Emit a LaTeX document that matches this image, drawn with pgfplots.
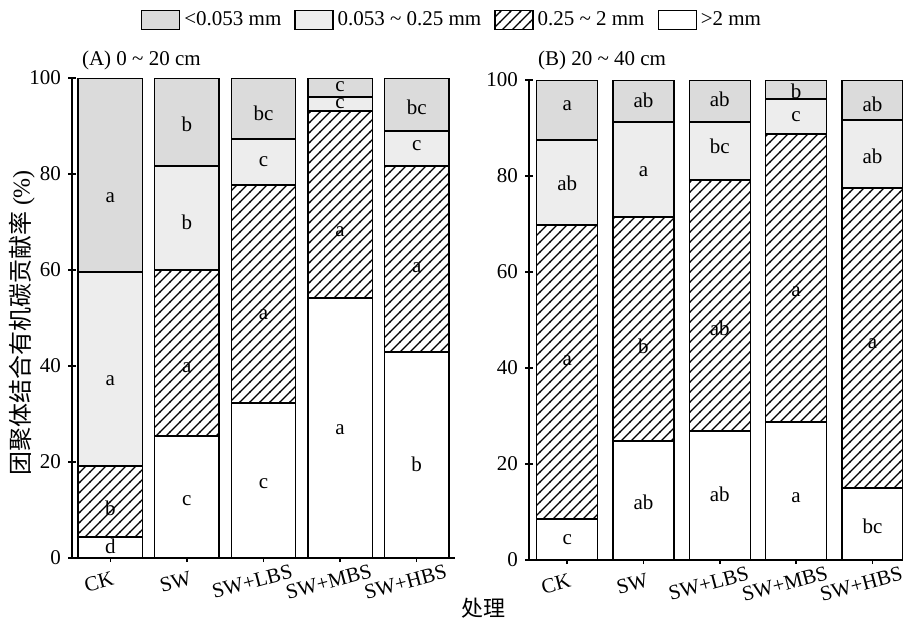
\documentclass[border=0pt]{standalone}
\usepackage{fontspec}
\setmainfont{Liberation Serif}
\newfontfamily\cjk{Noto Sans CJK SC}
\usepackage{pgfplots}
\usepackage{pgfplotstable}
\pgfplotsset{compat=1.18}
\usetikzlibrary{patterns}

\pgfdeclarepatternformonly{widelines}{\pgfqpoint{-1pt}{-1pt}}{\pgfqpoint{6pt}{6pt}}{\pgfqpoint{5pt}{5pt}}{%
  \pgfsetlinewidth{0.55pt}%
  \pgfpathmoveto{\pgfqpoint{-0.2pt}{-0.2pt}}%
  \pgfpathlineto{\pgfqpoint{5.2pt}{5.2pt}}%
  \pgfusepath{stroke}}

% segment values (stacked from bottom): >2, 0.25-2, 0.053-0.25, <0.053
\pgfplotstableread{
x  a    b    c    d
0  4.4  14.8 40.4 40.4
1  25.4 34.6 21.7 18.3
2  32.3 45.4 9.6  12.7
3  54.2 38.9 2.9  4.0
4  42.9 38.8 7.3  11.0
}\dataA
\pgfplotstableread{
x  a    b    c    d
0  8.5  61.3 17.7 12.5
1  24.8 46.7 19.7 8.8
2  26.9 52.3 12.0 8.8
3  28.7 60.1 7.2  4.0
4  15.0 62.5 14.2 8.3
}\dataB

\tikzset{lbl/.style={font=\fontsize{10.5}{12}\selectfont}}
\newcommand\labelsA{%
\node[lbl] at (axis cs:0,2.5) {d};
\node[lbl] at (axis cs:0,10.4) {b};
\node[lbl] at (axis cs:0,37) {a};
\node[lbl] at (axis cs:0,75) {a};
\node[lbl] at (axis cs:1,12) {c};
\node[lbl] at (axis cs:1,39.6) {a};
\node[lbl] at (axis cs:1,70) {b};
\node[lbl] at (axis cs:1,90.4) {b};
\node[lbl] at (axis cs:2,15.4) {c};
\node[lbl] at (axis cs:2,50.6) {a};
\node[lbl] at (axis cs:2,82.5) {c};
\node[lbl] at (axis cs:2,92.7) {bc};
\node[lbl] at (axis cs:3,26.7) {a};
\node[lbl] at (axis cs:3,68) {a};
\node[lbl] at (axis cs:3,94.6) {c};
\node[lbl] at (axis cs:3,98.1) {c};
\node[lbl] at (axis cs:4,19.6) {b};
\node[lbl] at (axis cs:4,60.4) {a};
\node[lbl] at (axis cs:4,86) {c};
\node[lbl] at (axis cs:4,93.8) {bc};}
\newcommand\labelsB{%
\node[lbl] at (axis cs:0,4.2) {c};
\node[lbl] at (axis cs:0,41.5) {a};
\node[lbl] at (axis cs:0,78.5) {ab};
\node[lbl] at (axis cs:0,94.6) {a};
\node[lbl] at (axis cs:1,12) {ab};
\node[lbl] at (axis cs:1,44.6) {b};
\node[lbl] at (axis cs:1,80.8) {a};
\node[lbl] at (axis cs:1,95.8) {ab};
\node[lbl] at (axis cs:2,13.7) {ab};
\node[lbl] at (axis cs:2,48.3) {ab};
\node[lbl] at (axis cs:2,86.2) {bc};
\node[lbl] at (axis cs:2,96) {ab};
\node[lbl] at (axis cs:3,13) {a};
\node[lbl] at (axis cs:3,56) {a};
\node[lbl] at (axis cs:3,92.3) {c};
\node[lbl] at (axis cs:3,97.7) {b};
\node[lbl] at (axis cs:4,7) {bc};
\node[lbl] at (axis cs:4,45) {a};
\node[lbl] at (axis cs:4,84) {ab};
\node[lbl] at (axis cs:4,95) {ab};}

\pgfplotsset{
  sA/.style={fill=white},
  sB/.style={pattern=widelines},
  sC/.style={fill=black!7},
  sD/.style={fill=black!14},
  myleg/.style={legend image code/.code={\draw[##1, line width=0.6pt] (0pt,-4.75pt) rectangle (19pt,4.75pt);}},
  myax/.style={
    scale only axis, ybar stacked,
    ymin=0, ymax=100, ytick={0,20,...,100},
    xtick={0,...,4}, xticklabels={CK,SW,SW+LBS,SW+MBS,SW+HBS},
    axis lines*=left, axis line style={line width=0.75pt},
    tick align=center, major tick length=4pt,
    tick style={black, line width=0.75pt},
    tick label style={font=\fontsize{10.5}{12}\selectfont},
    /pgf/number format/assume math mode=true,
    xticklabel style={rotate=15, anchor=north, xshift=-8pt, yshift=-1pt},
    every axis plot/.append style={draw=black, line width=0.75pt},
    enlarge x limits=false,
  },
}

\begin{document}
\begin{tikzpicture}
\useasboundingbox (-36pt,-32pt) rectangle (415.5pt,279pt);
\begin{axis}[myax,
  at={(0pt,0pt)}, anchor=south west,
  width=191.5pt, height=240pt,
  xmin=-0.5, xmax=4.5, bar width=0.84,
  legend columns=4,
  legend style={at={(0.995,1.121)}, anchor=center, draw=none, fill=none,
    font=\fontsize{10.5}{12}\selectfont,
    /tikz/every even column/.append style={column sep=4.5pt}},
  after end axis/.code={\labelsA},
]
\addlegendimage{myleg, sD, draw=black}
\addlegendimage{myleg, sC, draw=black}
\addlegendimage{myleg, sB, draw=black}
\addlegendimage{myleg, sA, draw=black}
\addplot[sA, forget plot] table[x=x,y=a]{\dataA};
\addplot[sB, forget plot] table[x=x,y=b]{\dataA};
\addplot[sC, forget plot] table[x=x,y=c]{\dataA};
\addplot[sD, forget plot] table[x=x,y=d]{\dataA};
\legend{<0.053 mm, 0.053 \textasciitilde{} 0.25 mm, 0.25 \textasciitilde{} 2 mm, >2 mm}
\end{axis}

\begin{axis}[myax,
  at={(228.5pt,-1pt)}, anchor=south west,
  width=187pt, height=240pt,
  xmin=-0.5, xmax=4.40, bar width=0.8,
  after end axis/.code={\labelsB},
]
\addplot[sA] table[x=x,y=a]{\dataB};
\addplot[sB] table[x=x,y=b]{\dataB};
\addplot[sC] table[x=x,y=c]{\dataB};
\addplot[sD] table[x=x,y=d]{\dataB};
\end{axis}

\node[anchor=west, font=\fontsize{10.5}{12}\selectfont] at (1.5pt,249pt) {(A) 0 \textasciitilde{} 20 cm};
\node[anchor=west, font=\fontsize{10.5}{12}\selectfont] at (229.5pt,249pt) {(B) 20 \textasciitilde{} 40 cm};
\node[rotate=90, font=\fontsize{12}{14}\selectfont] at (-25pt,117.5pt) {{\cjk 团聚体结合有机碳贡献率} (\%)};
\node[font=\fontsize{11}{13}\selectfont] at (205.5pt,-25pt) {\cjk 处理};
\end{tikzpicture}
\end{document}
